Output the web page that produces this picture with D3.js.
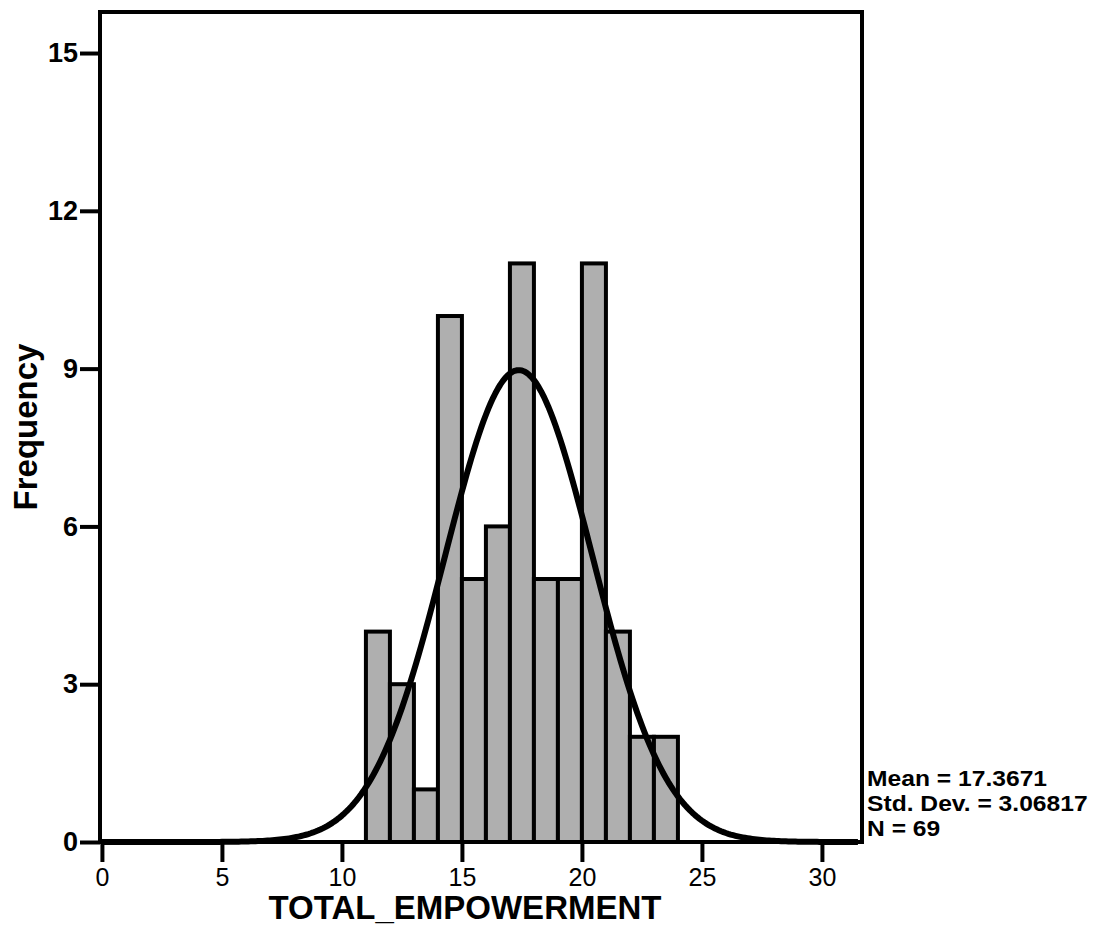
<!DOCTYPE html>
<html>
<head>
<meta charset="utf-8">
<script src="https://cdn.jsdelivr.net/npm/d3@7"></script>
<style>
  body { margin: 0; background: #fff; }
  text { font-family: "Liberation Sans", Arial, sans-serif; fill: #000; }
</style>
</head>
<body>
<div id="plot"></div>
<script>
// Histogram bins (lower edge) and their counts
var binStarts = [11, 12, 13, 14, 15, 16, 17, 18, 19, 20, 21, 22, 23];
var binCounts = [4, 3, 1, 10, 5, 6, 11, 5, 5, 11, 4, 2, 2];
var binWidth = 1;

// Stats printed beside the chart
var meanValue = 17.3671;
var stdDev = 3.06817;
var nValue = 69;
var statLines = ["Mean = 17.3671", "Std. Dev. = 3.06817", "N = 69"];

// Tick labels
var xTicks = [0, 5, 10, 15, 20, 25, 30];
var yTicks = [0, 3, 6, 9, 12, 15];

var svgWidth = 1108;
var svgHeight = 941;

var frame = { left: 100, top: 12, right: 862, bottom: 842 };

var svg = d3.select("#plot")
    .append("svg")
    .attr("width", svgWidth)
    .attr("height", svgHeight);

var xScale = d3.scaleLinear()
    .domain([-0.08, 31.67])
    .range([frame.left, frame.right]);

var yScale = d3.scaleLinear()
    .domain([0, 15.78])
    .range([frame.bottom, frame.top]);

var bins = binStarts.map((s, i) => ({ x0: s, x1: s + binWidth, count: binCounts[i] }));

// Bars
svg.selectAll(".bar")
    .data(bins)
    .enter()
    .append("rect")
    .attr("class", "bar")
    .attr("x", d => xScale(d.x0))
    .attr("y", d => yScale(d.count))
    .attr("width", d => xScale(d.x1) - xScale(d.x0))
    .attr("height", d => yScale(0) - yScale(d.count))
    .attr("fill", "#afafaf")
    .attr("stroke", "#000")
    .attr("stroke-width", 4);

// Normal curve from the stated mean / sd
var curvePts = d3.range(0, 31.6, 0.1).map(function (x) {
    var z = (x - meanValue) / stdDev;
    var dens = Math.exp(-0.5 * z * z) / (stdDev * Math.sqrt(2 * Math.PI));
    return [x, dens * nValue * binWidth];
});

svg.append("path")
    .datum(curvePts)
    .attr("fill", "none")
    .attr("stroke", "#000")
    .attr("stroke-width", 6)
    .attr("stroke-linejoin", "round")
    .attr("d", d3.line().x(d => xScale(d[0])).y(d => yScale(d[1])));

// Frame
svg.append("rect")
    .attr("x", frame.left)
    .attr("y", frame.top)
    .attr("width", frame.right - frame.left)
    .attr("height", frame.bottom - frame.top)
    .attr("fill", "none")
    .attr("stroke", "#000")
    .attr("stroke-width", 4);

// Axes
var bottomAxis = d3.axisBottom(xScale).tickValues(xTicks).tickSize(20).tickSizeOuter(0).tickPadding(6);
var leftAxis = d3.axisLeft(yScale).tickValues(yTicks).tickSize(20).tickSizeOuter(0).tickPadding(2);

var xAxisG = svg.append("g")
    .attr("transform", `translate(0, ${frame.bottom})`)
    .call(bottomAxis);
xAxisG.select(".domain").remove();
xAxisG.selectAll("line").attr("stroke", "#000").attr("stroke-width", 4);
xAxisG.selectAll("text")
    .attr("font-size", 25)
    .attr("font-family", "Liberation Sans, Arial, sans-serif");

var yAxisG = svg.append("g")
    .attr("transform", `translate(${frame.left}, 0)`)
    .call(leftAxis);
yAxisG.select(".domain").remove();
yAxisG.selectAll("line").attr("stroke", "#000").attr("stroke-width", 4);
yAxisG.selectAll("text")
    .attr("font-size", 27)
    .attr("font-weight", "bold")
    .attr("font-family", "Liberation Sans, Arial, sans-serif");

// Axis labels
svg.append("text")
    .attr("x", 465)
    .attr("y", 919)
    .attr("text-anchor", "middle")
    .attr("font-size", 33)
    .attr("font-weight", "bold")
    .text("TOTAL_EMPOWERMENT");

svg.append("text")
    .attr("transform", "translate(37, 427) rotate(-90)")
    .attr("text-anchor", "middle")
    .attr("font-size", 33)
    .attr("font-weight", "bold")
    .text("Frequency");

// Stats block (stretched a little sideways, like the original)
svg.selectAll(".stat")
    .data(statLines)
    .enter()
    .append("text")
    .attr("class", "stat")
    .attr("transform", (d, i) => `translate(867, ${786 + i * 25}) scale(1.12, 1)`)
    .attr("font-size", 22)
    .attr("font-weight", "bold")
    .text(d => d);
</script>
</body>
</html>
